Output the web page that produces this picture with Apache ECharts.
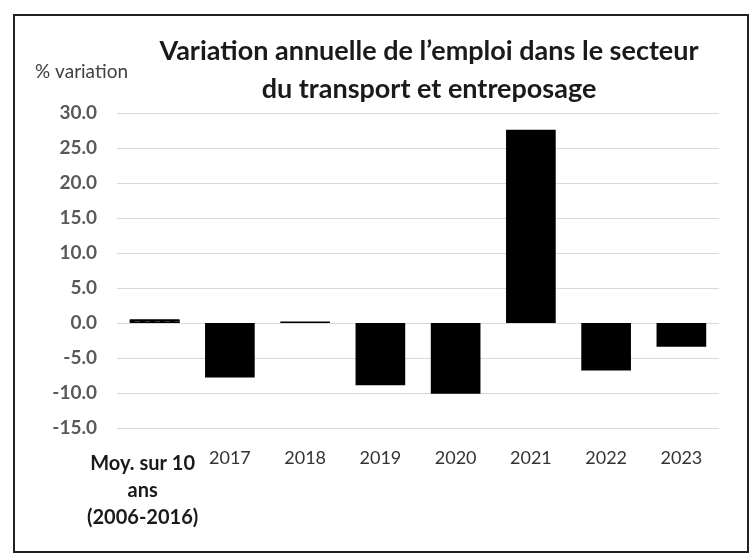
<!DOCTYPE html>
<html>
<head>
<meta charset="utf-8">
<script src="https://cdn.jsdelivr.net/npm/echarts@6/dist/echarts.min.js"></script>
<style>
  html, body { margin: 0; padding: 0; background: #fff; }
  #chart { width: 754px; height: 554px; }
</style>
</head>
<body>
<div id="chart"></div>
<script>
// catégories et valeurs
const categories = ['Moy. sur 10\nans\n(2006-2016)', '2017', '2018', '2019', '2020', '2021', '2022', '2023']
const values = [0.5, -7.8, 0.2, -8.9, -10.1, 27.6, -6.8, -3.4]
const yTicks = [-15, -10, -5, 0, 5, 10, 15, 20, 25, 30]

const chart = echarts.init(document.getElementById('chart'))

const seriesData = values.map((v, i) => {
  if (i === 0) {
    // barre de la moyenne : motif hachuré
    return {
      value: v,
      itemStyle: {
        color: '#fff',
        borderColor: '#000',
        borderWidth: 1.5,
        decal: {
          symbol: 'rect',
          symbolSize: 1,
          dashArrayX: [[5, 5]],
          dashArrayY: [2, 2],
          color: '#000',
          rotation: 0
        }
      }
    }
  }
  return v
})

const option = {
  animation: false,
  textStyle: { fontFamily: 'Lato' },
  graphic: [
    {
      type: 'rect',
      shape: { x: 14, y: 15, width: 734, height: 537 },
      style: { fill: 'none', stroke: '#222', lineWidth: 2 },
      silent: true
    },
    {
      type: 'text',
      left: 35,
      top: 62,
      style: { text: '% variation', fontFamily: 'Lato', fontSize: 19, fill: '#404040' }
    }
  ],
  title: {
    text: 'Variation annuelle de l’emploi dans le secteur\ndu transport et entreposage',
    left: 424,
    top: 27,
    textAlign: 'center',
    textStyle: {
      fontFamily: 'Lato',
      fontWeight: 'bold',
      fontSize: 27,
      lineHeight: 38,
      color: '#1a1a1a'
    }
  },
  grid: {
    left: 117,
    right: 35,
    top: 113,
    bottom: 126,
    containLabel: false
  },
  xAxis: {
    type: 'category',
    data: categories,
    axisLine: { show: false },
    axisTick: { show: false },
    axisLabel: {
      interval: 0,
      margin: 21,
      color: '#333',
      fontSize: 18,
      formatter: (val, idx) => idx === 0 ? '{b|' + val + '}' : val,
      rich: {
        b: {
          fontWeight: 'bold',
          fontSize: 20,
          lineHeight: 27,
          color: '#1a1a1a',
          padding: [2, 24, 0, 0]
        }
      }
    }
  },
  yAxis: {
    type: 'value',
    min: yTicks[0],
    max: yTicks[yTicks.length - 1],
    interval: 5,
    axisLine: { show: false },
    axisTick: { show: false },
    splitLine: { lineStyle: { color: '#d9d9d9', width: 1 } },
    axisLabel: {
      margin: 20,
      fontSize: 19,
      fontWeight: 'bold',
      color: '#595959',
      formatter: v => v.toFixed(1)
    }
  },
  series: [
    {
      type: 'bar',
      data: seriesData,
      barWidth: '66%',
      itemStyle: { color: '#000' }
    }
  ]
}

chart.setOption(option)
</script>
</body>
</html>
